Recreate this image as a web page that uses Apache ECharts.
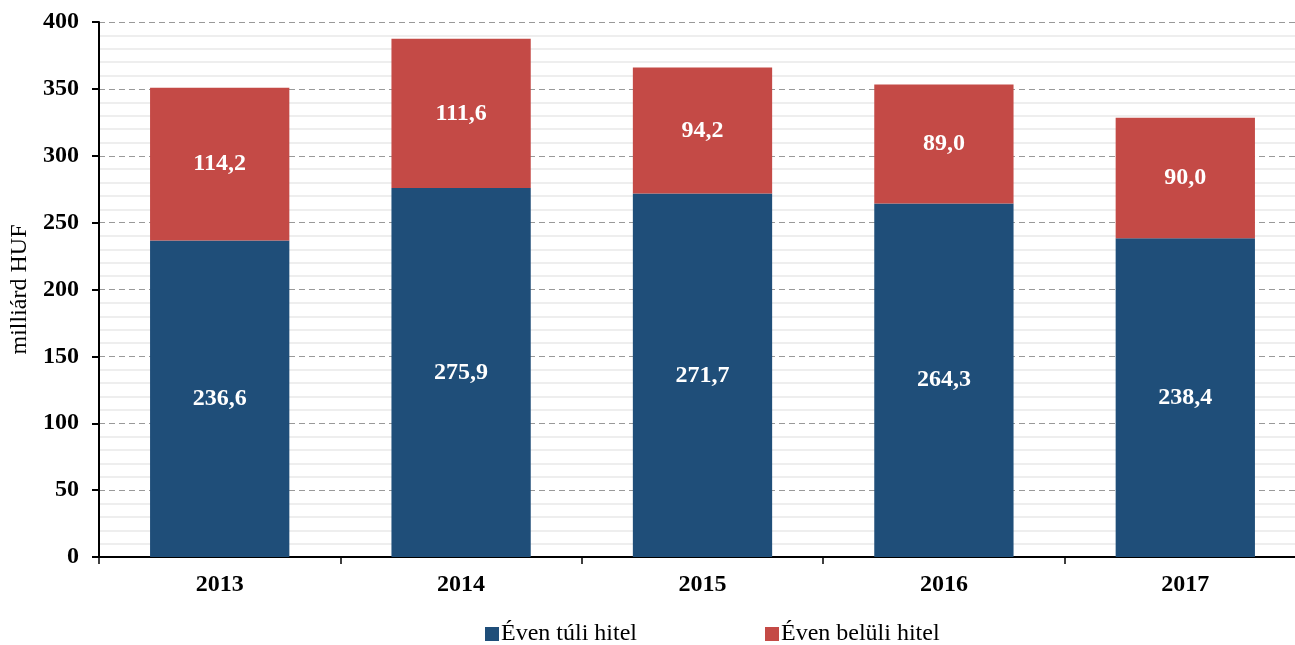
<!DOCTYPE html>
<html>
<head>
<meta charset="utf-8">
<script src="https://cdn.jsdelivr.net/npm/echarts@6/dist/echarts.min.js"></script>
<style>
html, body { margin: 0; padding: 0; background: #fff; overflow: hidden; }
#chart { width: 1306px; height: 645px; }
</style>
</head>
<body>
<div id="chart"></div>
<script>
const years = ['2013', '2014', '2015', '2016', '2017'];
const longTerm = [236.6, 275.9, 271.7, 264.3, 238.4];
const shortTerm = [114.2, 111.6, 94.2, 89.0, 90.0];
const seriesNames = ['Éven túli hitel', 'Éven belüli hitel'];
const yTicks = [0, 50, 100, 150, 200, 250, 300, 350, 400];

const font = '"Liberation Serif", "Times New Roman", serif';
const fmt = function (p) { return p.value.toFixed(1).replace('.', ','); };

const chart = echarts.init(document.getElementById('chart'));
chart.setOption({
    animation: false,
    textStyle: { fontFamily: font },
    grid: { left: 99, right: 0, top: 22, bottom: 88 },
    legend: {
        top: 617,
        left: 480,
        itemWidth: 14,
        itemHeight: 14,
        itemGap: 128,
        icon: 'rect',
        textStyle: { fontFamily: font, fontSize: 24, color: '#000', padding: [0, 0, 0, -3] },
        data: seriesNames
    },
    xAxis: {
        type: 'category',
        data: years,
        axisLine: { lineStyle: { color: '#000', width: 2 } },
        axisTick: { show: true, length: 7, lineStyle: { color: '#000', width: 1.5 } },
        axisLabel: { color: '#000', fontSize: 24, fontWeight: 'bold', fontFamily: font, margin: 16 }
    },
    yAxis: {
        type: 'value',
        min: yTicks[0],
        max: yTicks[yTicks.length - 1],
        interval: 50,
        name: 'milliárd HUF',
        nameLocation: 'middle',
        nameGap: 0,
        nameTextStyle: { fontSize: 24, color: '#000', fontFamily: font, padding: [0, 0, 0, 0] },
        nameRotate: 90,
        axisLine: { show: true, lineStyle: { color: '#000', width: 2 } },
        axisTick: { show: true, length: 7, lineStyle: { color: '#000', width: 2 } },
        axisLabel: { color: '#000', fontSize: 24, fontWeight: 'bold', fontFamily: font, margin: 20 },
        splitLine: { lineStyle: { color: '#999', type: [6, 4], width: 1 } },
        minorTick: { show: false, splitNumber: 5 },
        minorSplitLine: { show: true, lineStyle: { color: '#eeeeee', width: 2 } }
    },
    series: [
        {
            name: seriesNames[0],
            type: 'bar',
            stack: 'total',
            barWidth: '57.7%',
            itemStyle: { color: '#1F4E79' },
            label: { show: true, position: 'inside', color: '#fff', fontSize: 24, fontWeight: 'bold', fontFamily: font, formatter: fmt },
            data: longTerm
        },
        {
            name: seriesNames[1],
            type: 'bar',
            stack: 'total',
            itemStyle: { color: '#C44A46' },
            label: { show: true, position: 'inside', color: '#fff', fontSize: 24, fontWeight: 'bold', fontFamily: font, formatter: fmt },
            data: shortTerm
        }
    ]
});
window.addEventListener('resize', function () { chart.resize(); });
</script>
</body>
</html>
